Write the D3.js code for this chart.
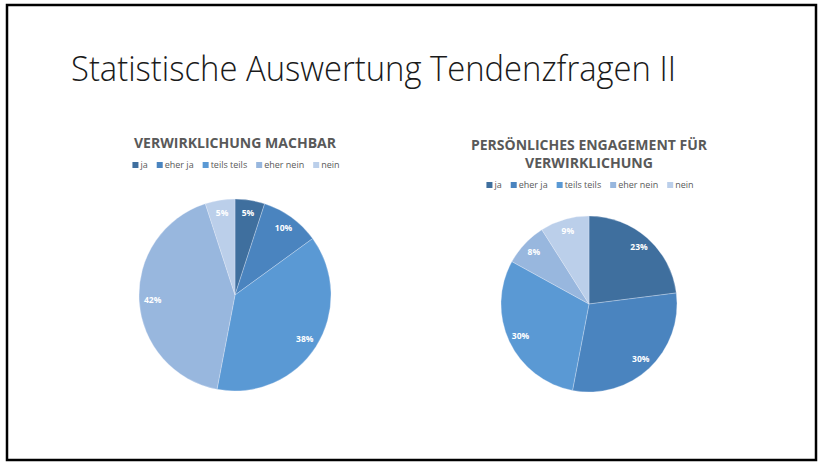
<!DOCTYPE html>
<html>
<head>
<meta charset="UTF-8">
<title>Statistische Auswertung Tendenzfragen II</title>
<script src="https://cdn.jsdelivr.net/npm/d3@7"></script>
<style>
  body { margin: 0; background: #fff; }
  svg text { font-family: "Open Sans", "Noto Sans", sans-serif; }
</style>
</head>
<body>
<script>
// categories + values
var categories = ['ja', 'eher ja', 'teils teils', 'eher nein', 'nein'];
var machbarValues = [5, 10, 38, 42, 5];
var engagementValues = [23, 30, 30, 8, 9];
var colours = ['#3f6f9e', '#4a84bf', '#5a99d4', '#98b7de', '#bbcfea'];

var width = 825, height = 468;

var svg = d3.select('body').append('svg')
  .attr('width', width)
  .attr('height', height);

svg.append('rect')
  .attr('x', 7).attr('y', 5)
  .attr('width', 809).attr('height', 455)
  .attr('fill', 'none')
  .attr('stroke', '#000')
  .attr('stroke-width', 2.5);

svg.append('text')
  .attr('x', 71).attr('y', 81)
  .attr('font-size', 34)
  .attr('font-weight', 300)
  .attr('fill', '#1a1a1a')
  .attr('textLength', 605)
  .attr('lengthAdjust', 'spacingAndGlyphs')
  .text('Statistische Auswertung Tendenzfragen II');

var colour = d3.scaleOrdinal().domain(categories).range(colours);

function drawPie(opts) {
  var g = svg.append('g');

  // title lines
  opts.title.forEach(function(line, i) {
    g.append('text')
      .attr('x', opts.cx)
      .attr('y', opts.titleY + i * 18)
      .attr('text-anchor', 'middle')
      .attr('font-size', 13.5)
      .attr('font-weight', 700)
      .attr('fill', '#595959')
      .attr('textLength', opts.titleW[i])
      .attr('lengthAdjust', 'spacingAndGlyphs')
      .text(line);
  });

  // legend, centred under title
  var legend = g.append('g');
  var xpos = 0, gap = 9;
  categories.forEach(function(c, i) {
    var item = legend.append('g').attr('transform', 'translate(' + xpos + ',0)');
    item.append('rect')
      .attr('x', 0).attr('y', -6)
      .attr('width', 6).attr('height', 6)
      .attr('fill', colour(c));
    var t = item.append('text')
      .attr('x', 8).attr('y', 0)
      .attr('font-size', 9)
      .attr('fill', '#595959')
      .text(c);
    xpos += 8 + t.node().getComputedTextLength() + gap;
  });
  var legendW = xpos - gap;
  legend.attr('transform', 'translate(' + (opts.cx + 1 - legendW / 2) + ',' + opts.legendY + ')');

  var pie = d3.pie().sort(null);
  var arc = d3.arc().innerRadius(0).outerRadius(opts.r);
  var labelArc = d3.arc().innerRadius(opts.r * 0.86).outerRadius(opts.r * 0.86);

  var slices = g.append('g')
    .attr('transform', 'translate(' + opts.cx + ',' + opts.cy + ')')
    .selectAll('g')
    .data(pie(opts.values))
    .enter().append('g');

  slices.append('path')
    .attr('d', arc)
    .attr('fill', function(d, i) { return colour(categories[i]); })
    .attr('stroke', '#eef3fa')
    .attr('stroke-width', 0.3);

  slices.append('text')
    .attr('transform', function(d) { return 'translate(' + labelArc.centroid(d) + ')'; })
    .attr('text-anchor', 'middle')
    .attr('dy', '0.35em')
    .attr('font-size', 8.5)
    .attr('font-weight', 700)
    .attr('fill', '#fff')
    .text(function(d) { return d.data + '%'; });
}

drawPie({
  values: machbarValues,
  title: ['VERWIRKLICHUNG MACHBAR'],
  titleW: [202],
  titleY: 148,
  legendY: 168,
  cx: 235, cy: 295, r: 96
});

drawPie({
  values: engagementValues,
  title: ['PERSÖNLICHES ENGAGEMENT FÜR', 'VERWIRKLICHUNG'],
  titleW: [236, 128],
  titleY: 150,
  legendY: 188,
  cx: 589, cy: 304, r: 88
});
</script>
</body>
</html>
